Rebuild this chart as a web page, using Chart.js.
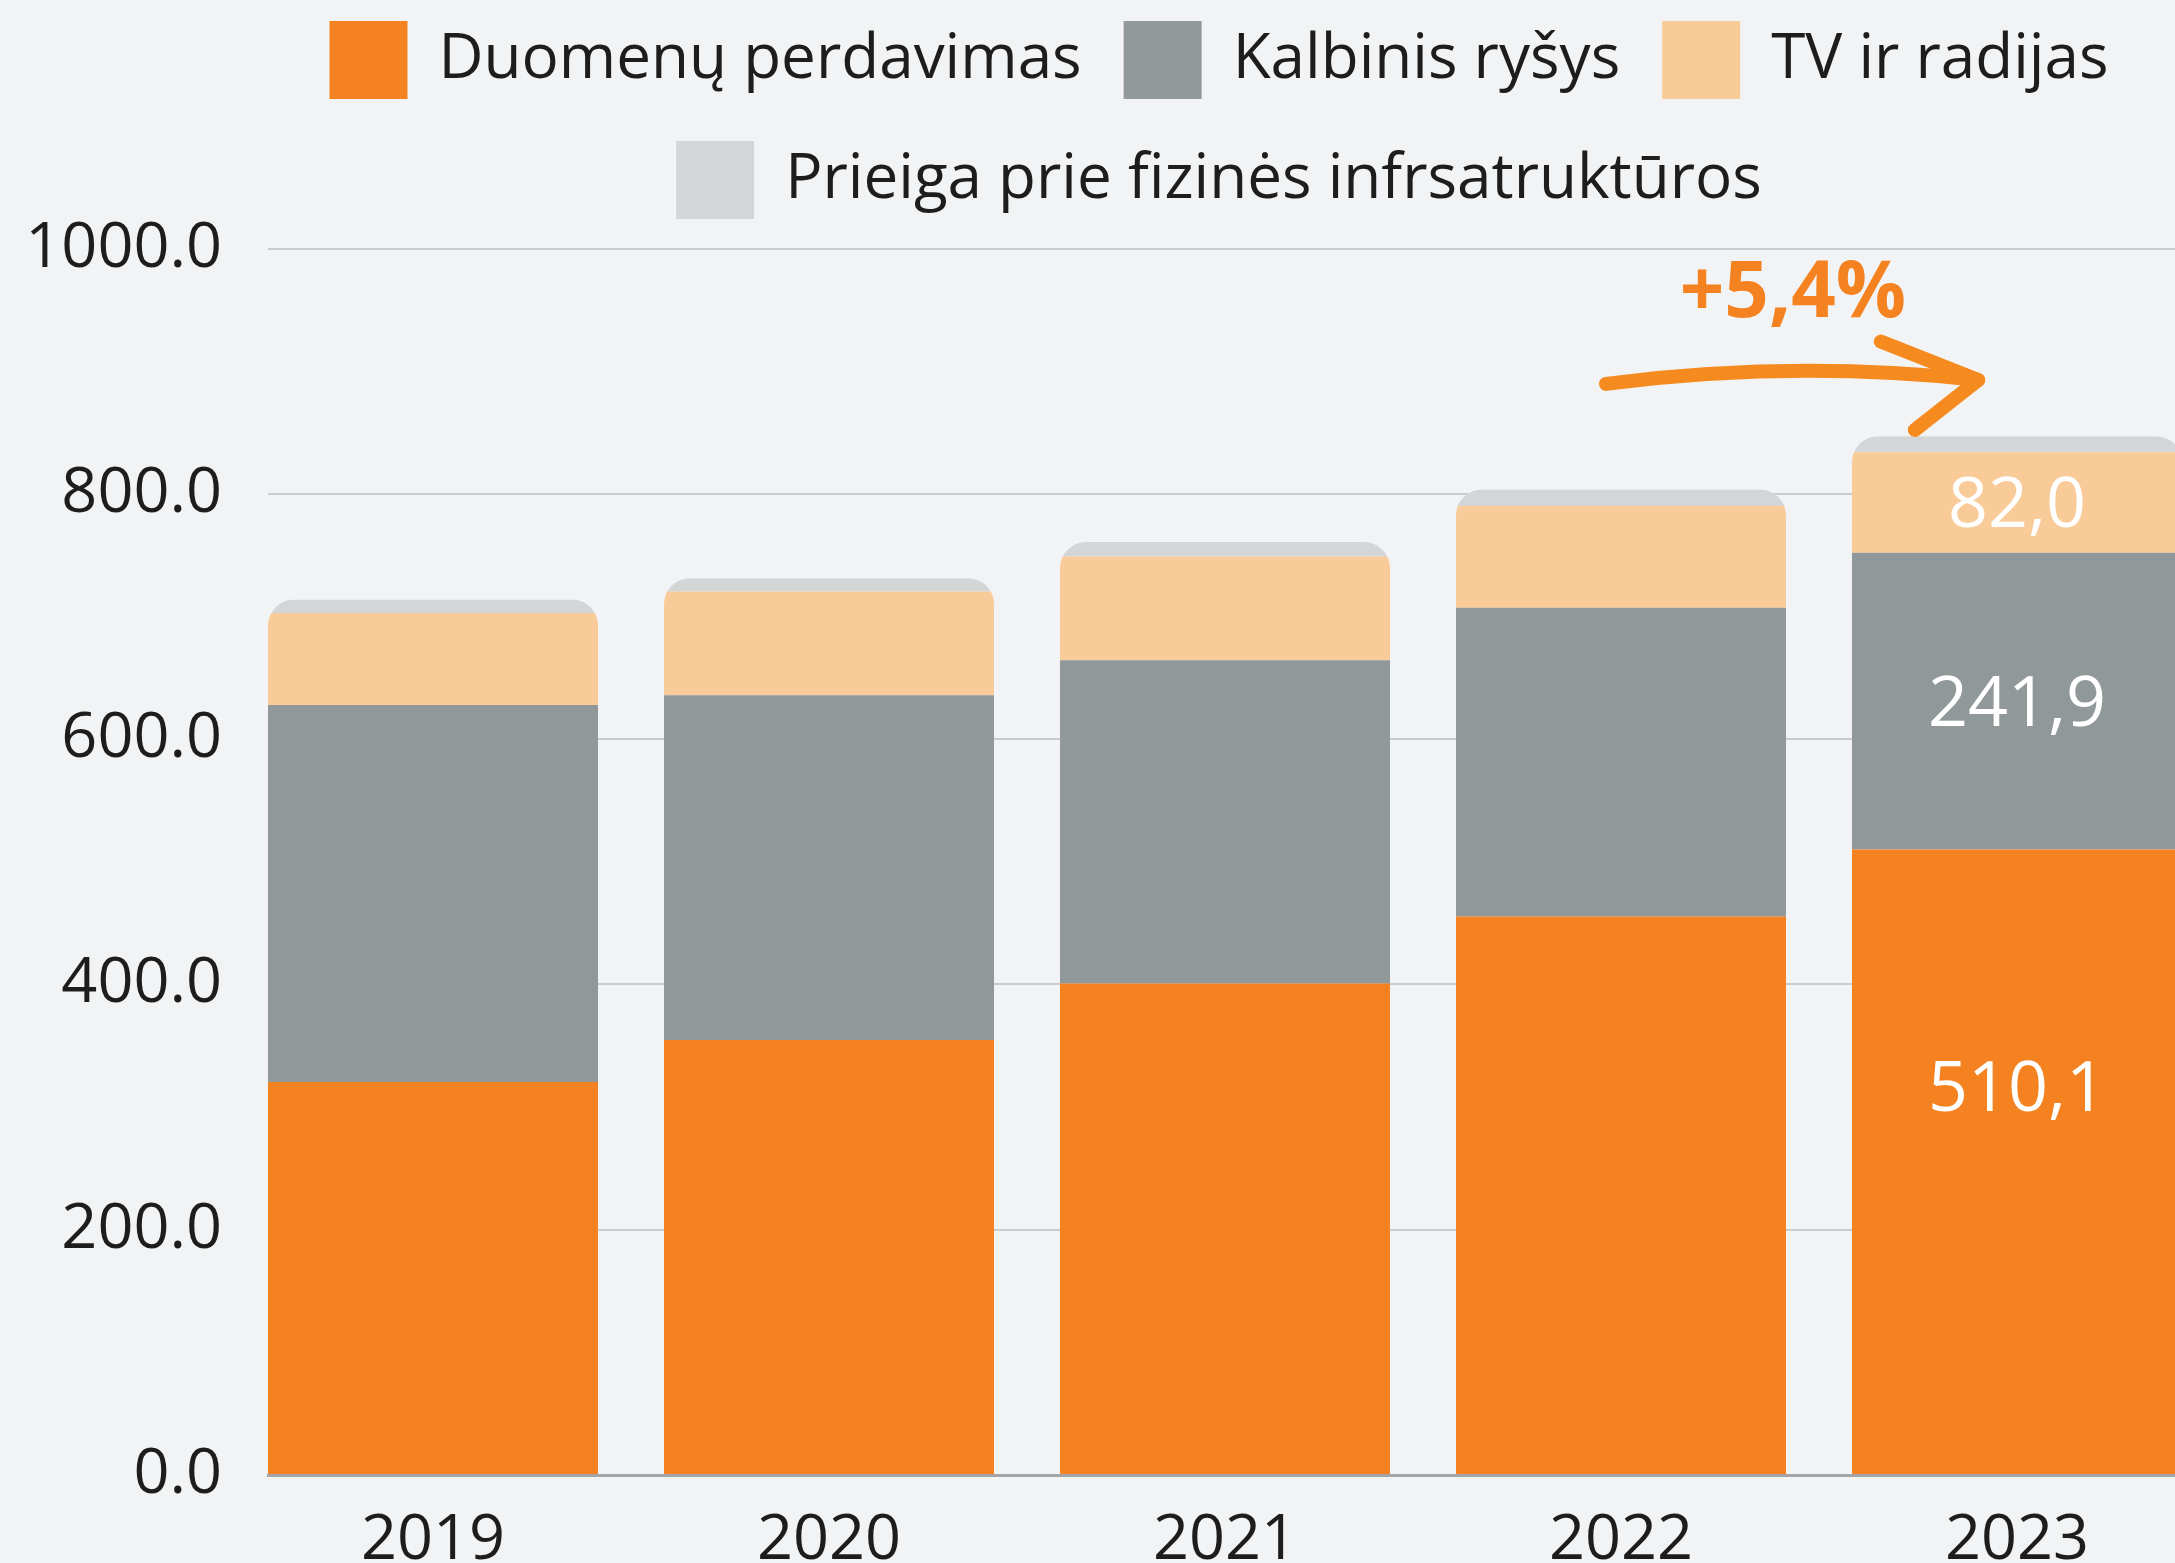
<!DOCTYPE html>
<html><head><meta charset="utf-8">
<script src="https://cdn.jsdelivr.net/npm/chart.js@4/dist/chart.umd.min.js"></script>
<style>
html,body{margin:0;padding:0;background:#f2f3f5;overflow:hidden;width:2175px;height:1563px;}
canvas{display:block;}
</style></head><body>
<canvas id="c" width="2438" height="1563"></canvas>
<script>
// ---- data ----
const years = [2019, 2020, 2021, 2022, 2023];
const seriesNames = ['Duomenų perdavimas', 'Kalbinis ryšys', 'TV ir radijas', 'Prieiga prie fizinės infrsatruktūros'];
const duomenuPerdavimas = [320.4, 354.7, 400.7, 455.4, 510.1];
const kalbinisRysys = [307.5, 281.2, 263.6, 251.8, 241.9];
const tvIrRadijas = [74.9, 84.6, 84.6, 83.0, 82.0];
const prieiga = [11.0, 10.8, 11.8, 13.4, 13.0];
const yTicks = [0, 200, 400, 600, 800, 1000];
const labelledYear = 2023;
const growthText = '+5,4%';

// ---- styles ----
const colors = ['#F58220', '#91989A', '#F8CB98', '#D4D5D7'];
const FONT = "'Open Sans', 'Noto Sans', sans-serif";
const TEXT = '#1d1d1b';

const roundTop = {
  id: 'roundTop',
  beforeDatasetsDraw(chart) {
    const ctx = chart.ctx;
    const n = chart.data.datasets.length;
    const topMeta = chart.getDatasetMeta(n - 1);
    const botMeta = chart.getDatasetMeta(0);
    ctx.save();
    ctx.beginPath();
    topMeta.data.forEach((el, i) => {
      const p = el.getProps(['x', 'y', 'width'], true);
      const b = botMeta.data[i].getProps(['base'], true).base;
      const l = p.x - p.width / 2, r = p.x + p.width / 2, t = p.y;
      const R = Math.min(26, p.width / 2);
      ctx.moveTo(l, b);
      ctx.lineTo(l, t + R);
      ctx.arcTo(l, t, l + R, t, R);
      ctx.lineTo(r - R, t);
      ctx.arcTo(r, t, r, t + R, R);
      ctx.lineTo(r, b);
      ctx.closePath();
    });
    ctx.clip();
  },
  afterDatasetsDraw(chart) {
    const ctx = chart.ctx;
    ctx.restore();
    const xs = chart.scales.x, ys = chart.scales.y;
    // value labels for the last year
    const idx = years.indexOf(labelledYear);
    ctx.save();
    ctx.fillStyle = '#ffffff';
    ctx.font = "70px " + FONT;
    ctx.textAlign = 'center';
    ctx.textBaseline = 'alphabetic';
    for (let d = 0; d < 3; d++) {
      const el = chart.getDatasetMeta(d).data[idx];
      const p = el.getProps(['x', 'y', 'base'], true);
      const frac = d === 0 ? 0.378 : 0.5;
      const cy = p.y + (p.base - p.y) * frac;
      const v = chart.data.datasets[d].data[idx];
      ctx.fillText(v.toFixed(1).replace('.', ','), p.x, cy + 70 * 0.357);
    }
    ctx.restore();

    // growth annotation
    const P = (a, b) => [xs.getPixelForValue(a), ys.getPixelForValue(b)];
    const s = P(2021.962, 889.7), c = P(2022.432, 909.2), tip = P(2022.902, 892.9);
    const h1 = P(2022.656, 924.2), h2 = P(2022.742, 852.2);
    ctx.save();
    ctx.strokeStyle = '#F58A1F';
    ctx.lineWidth = 14;
    ctx.lineCap = 'round';
    ctx.lineJoin = 'round';
    ctx.beginPath();
    ctx.moveTo(s[0], s[1]);
    ctx.quadraticCurveTo(c[0], c[1], tip[0], tip[1]);
    ctx.stroke();
    ctx.beginPath();
    ctx.moveTo(h1[0], h1[1]);
    ctx.lineTo(tip[0], tip[1]);
    ctx.lineTo(h2[0], h2[1]);
    ctx.stroke();
    ctx.fillStyle = '#F58220';
    ctx.font = "bold 78px " + FONT;
    ctx.textAlign = 'center';
    ctx.textBaseline = 'alphabetic';
    const tp = P(2022.434, 944.3);
    ctx.fillText(growthText, tp[0], tp[1]);
    ctx.restore();
  }
};

const seriesData = [duomenuPerdavimas, kalbinisRysys, tvIrRadijas, prieiga];

new Chart(document.getElementById('c'), {
  type: 'bar',
  data: {
    labels: years,
    datasets: seriesNames.map((name, i) => ({
      label: name,
      data: seriesData[i],
      backgroundColor: colors[i],
      borderWidth: 0,
      categoryPercentage: 0.8333,
      barPercentage: 1
    }))
  },
  options: {
    responsive: false,
    animation: false,
    devicePixelRatio: 1,
    layout: { padding: { top: -21, left: 0, right: 0, bottom: 0 } },
    plugins: {
      legend: {
        position: 'top',
        align: 'center',
        labels: {
          boxWidth: 78, boxHeight: 78, padding: 42,
          color: TEXT,
          font: { family: FONT, size: 62 }
        }
      },
      tooltip: { enabled: false }
    },
    scales: {
      x: {
        type: 'linear',
        stacked: true,
        min: 2018.5833,
        max: 2024.0631,
        offset: false,
        grid: { display: false },
        border: { display: true, color: '#a3a5a8', width: 3 },
        afterBuildTicks: sc => { sc.ticks = years.map(v => ({ value: v })); },
        afterFit: sc => { sc.height = 88; },
        ticks: {
          padding: 20, color: TEXT, autoSkip: false, maxRotation: 0,
          font: { family: FONT, size: 63 },
          callback: v => String(v)
        }
      },
      y: {
        stacked: true,
        min: 0,
        max: 1016,
        afterBuildTicks: sc => { sc.ticks = yTicks.map(v => ({ value: v })); },
        afterFit: sc => { sc.width = 268; },
        grid: { color: '#cbccce', lineWidth: 2, drawTicks: false },
        border: { display: false },
        ticks: {
          padding: 46, color: TEXT,
          font: { family: FONT, size: 63 },
          callback: v => Number(v).toFixed(1)
        }
      }
    }
  },
  plugins: [roundTop]
});
</script>
</body></html>
